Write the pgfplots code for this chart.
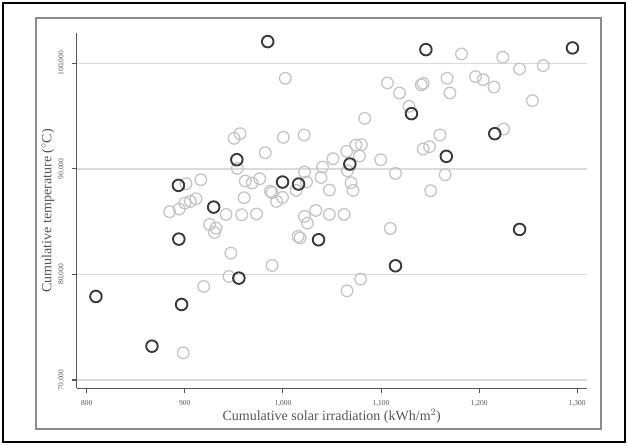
\documentclass[border=0pt]{standalone}
\usepackage{pgfplots}
\pgfplotsset{compat=1.18}
\usepackage{fontspec}
\setmainfont{Liberation Serif}
\definecolor{axgray}{HTML}{555555}
\definecolor{gridgray}{HTML}{DADADA}
\definecolor{lightc}{HTML}{C4C4C4}
\definecolor{darkc}{HTML}{3A3A3A}
\definecolor{framegray}{HTML}{8C8C8C}
\begin{document}
\begin{tikzpicture}[x=1pt,y=1pt]
\useasboundingbox (0,0) rectangle (628,446);
\draw[black,line width=1.5pt] (3,4) rectangle (625,443);
\draw[framegray,line width=2pt] (35.5,16.5) rectangle (601,428);
\begin{axis}[
  at={(76.7pt,57.7pt)}, anchor=south west,
  scale only axis, width=510pt, height=355pt,
  xmin=789.8, xmax=1309.6, ymin=69214, ymax=102841,
  axis x line*=bottom, axis y line*=left,
  axis line style={-, draw=axgray, line width=1.3pt},
  xtick={800,900,1000,1100,1200,1300},
  ytick={70000,80000,90000,100000},
  scaled x ticks=false, scaled y ticks=false,
  /pgf/number format/.cd, fixed, 1000 sep={,}, assume math mode=true, /pgfplots/.cd,
  tick align=outside, major tick length=5pt,
  tick style={draw=axgray, line width=1pt},
  ymajorgrids, grid style={draw=gridgray, line width=1.4pt},
  ticklabel style={font=\fontsize{7.5}{8}\selectfont, text=axgray, inner sep=0pt},
  xticklabel style={anchor=north}, xticklabel shift=7pt,
  yticklabel style={rotate=90, anchor=south}, yticklabel shift=7pt,
  label style={font=\fontsize{14}{16}\selectfont, text=axgray},
  xlabel={Cumulative solar irradiation (kWh/m$^{2}$)},
  ylabel={Cumulative temperature ($^{\circ}$C)},
  xlabel style={at={(axis description cs:0.5,-0.079)}, anchor=center},
  ylabel style={at={(axis description cs:-0.0563,0.5)}, anchor=center},
  clip=false,
]
\addplot[only marks, mark=o, mark size=5.8pt, mark options={draw=lightc, line width=1.3pt}] coordinates {
(1002.4,98578) (1182,100885) (1224.1,100569) (1265.3,99779) (1241.2,99463)
(1106.5,98136) (1118.8,97188) (1141,97960) (1143,98100) (1167.3,98578)
(1170.2,97188) (1196.3,98736) (1204.1,98452) (1215.1,97756) (1254.3,96461)
(1128.6,95922) (1083.3,94786) (1224.9,93775) (1160,93206) (1142.9,91879)
(1149.4,92100) (1021.6,93206) (1000.4,92985) (950.2,92890) (956.3,93332)
(982,91531) (1064.9,91658) (1074.3,92258) (1080,92290) (1078,91215)
(1051,90962) (1099.6,90867) (1040.4,90175) (1065.7,89820) (1022,89700)
(953.5,90046) (1038.8,89189) (1114.7,89568) (1165.3,89442) (1150.6,87930)
(1069.4,88687) (1071.4,87960) (1047.3,87992) (1024.1,88750) (1013.5,87960)
(993.5,86918) (987.3,87866) (989,87750) (999.6,87297) (961.6,88845) (968.6,88655)
(976.3,89066) (960.4,87266) (916.3,88972) (901.2,88593) (911.4,87171)
(905.7,86918) (900,86760) (894.3,86191) (884.5,85938) (942,85685)
(958,85654) (973.1,85717) (925.3,84736) (931.8,84389) (930.2,83978)
(1022,85495) (1024.9,84863) (1033.5,86064) (1047.3,85685) (1062.4,85685)
(1015.5,83600) (1017.5,83450) (1109.4,84358) (946.9,82020) (944.9,79808)
(989,80850) (919.2,78860) (1065.3,78449) (1079.2,79555) (898.4,72571)
};
\addplot[only marks, mark=o, mark size=5.8pt, mark options={draw=darkc, line width=1.9pt}] coordinates {
(984.5,102054) (1145.7,101296) (1295.1,101454) (1131,95228) (1215.9,93332)
(953,90867) (1166.5,91184) (1068.2,90457) (893.5,88434) (999.6,88750)
(1015.9,88561) (929.4,86380) (893.9,83347) (1036.3,83284) (1241.2,84263)
(1114.7,80819) (955.1,79650) (809.4,77911) (896.7,77153) (866.5,73203)
};
\end{axis}
\end{tikzpicture}
\end{document}
